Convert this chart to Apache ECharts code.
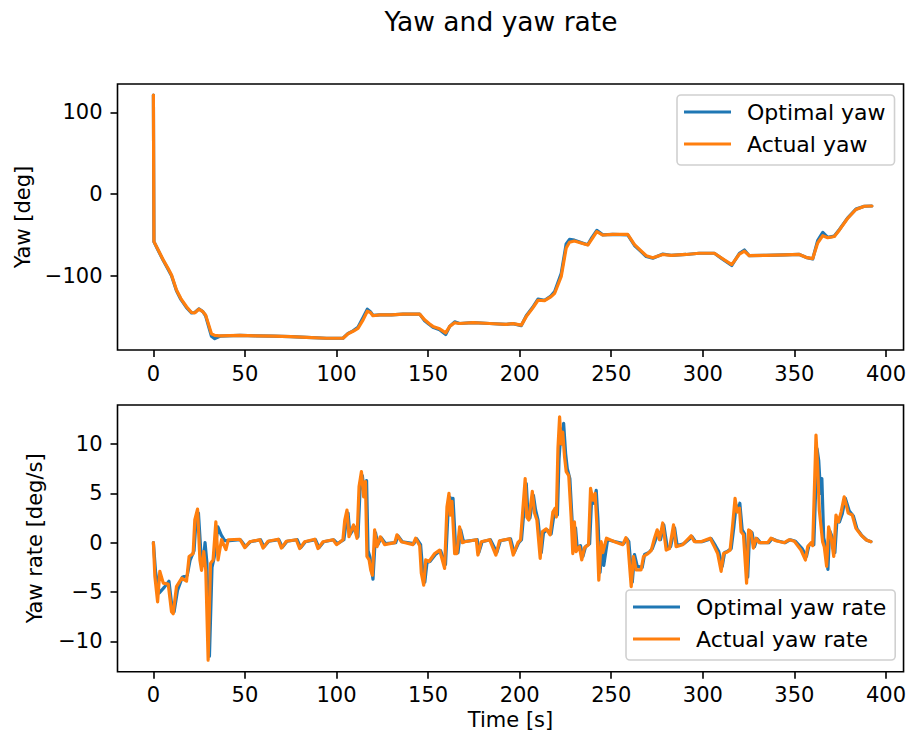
<!DOCTYPE html>
<html>
<head>
<meta charset="utf-8">
<script src="https://cdn.jsdelivr.net/npm/echarts@6/dist/echarts.min.js"></script>
<style>html,body{margin:0;padding:0;background:#fff}#c{width:909px;height:740px}</style>
</head>
<body>
<div id="c"></div>
<script>
const xTicks = [0, 50, 100, 150, 200, 250, 300, 350, 400];
const yawTicks = [-100, 0, 100];
const rateTicks = [-10, -5, 0, 5, 10];

const tYaw = [0, 0.3, 2.5, 5.4, 8, 9.9, 12.6, 15, 18.1, 20.8, 22.6, 24.8, 27, 28.5, 29.9, 31.7, 33.5, 36.3, 47.2, 56, 65.4, 75, 83.6, 94.5, 103.5, 106.3, 109, 111.7, 114.5, 116.8, 118.5, 119.9, 123.6, 130, 136.3, 145.4, 148.1, 150.5, 152.6, 156.3, 159.6, 161.8, 164.5, 167.2, 174.5, 183.6, 192.7, 196.3, 200.9, 203.6, 207, 210, 213.6, 217, 219.1, 222.7, 225.4, 227.2, 229.9, 233.5, 237.2, 239.5, 242.1, 245.4, 250.8, 259, 262.7, 266, 269.1, 272.7, 278.2, 282.7, 290.9, 298, 306.3, 310, 315.8, 320, 322.7, 325.4, 334.5, 345, 352.7, 356.3, 360, 362.7, 365.5, 368.2, 371.8, 374.6, 379, 383.6, 388.2, 392.3];
const yawActual = [121, -58.3, -68, -80.8, -91, -99, -117.5, -128, -138, -145, -145.5, -141, -144, -148, -158, -171, -173, -173.5, -173, -173.5, -174, -174.5, -175.5, -176.5, -176.5, -171, -168, -164.4, -154, -143.5, -145, -149, -148, -148, -147, -147, -154, -158.5, -162, -165, -170, -162, -157.5, -158.5, -157.5, -158.5, -159.5, -158.7, -160.5, -150, -140, -130, -130.5, -126, -121.5, -101, -66, -59, -57.5, -60, -62.4, -55, -46, -50.2, -49.5, -49.5, -62, -69, -75.5, -78, -74, -75, -74, -72.5, -72.5, -78, -86.5, -73.5, -70, -75.5, -75, -74.5, -74, -77.5, -79, -60, -51, -53.5, -52, -44, -30, -19, -15, -14.7];
const yawOptimal = [121, -58.5, -68.5, -81.5, -92, -100, -118.5, -129, -139, -145.5, -145, -140.5, -144, -149, -160, -174, -177, -174, -173, -173.5, -174, -174.5, -175.5, -176.5, -176.5, -170.5, -167.5, -163, -151, -141, -144, -148.5, -148, -148, -147, -147, -155, -159.5, -163, -166, -172, -162, -156.5, -158.5, -157.5, -158.5, -159.5, -158.7, -161, -149, -139, -128.5, -130, -125, -119.5, -97, -61, -55.5, -56.5, -59.5, -62, -53, -44.5, -50, -49.5, -50, -63, -70, -76.5, -78.5, -73.5, -75, -74, -72.5, -72.5, -78.5, -87.5, -72.5, -68.5, -75.5, -75, -74.5, -74, -77.5, -79.5, -57, -47, -53, -51.5, -43.5, -29.5, -18.5, -15, -14.7];

const tRateActual = [0, 0.8, 2.3, 3.5, 5.4, 8.1, 9.9, 10.8, 12.6, 15.4, 18.1, 19.5, 21.7, 22.6, 24.1, 25.4, 26.3, 27.5, 28.6, 29.9, 31.2, 32.6, 34.1, 35.3, 37.2, 39.6, 40.9, 47.2, 49.9, 52.6, 58.1, 59.9, 62.6, 68.1, 69.9, 72.6, 78, 79.9, 82.6, 88.1, 89.9, 92.6, 98.1, 100, 103.5, 104.5, 105.7, 106.8, 108.1, 109.3, 111.2, 112.3, 113.6, 114.8, 115.8, 116.6, 117.8, 118.7, 119.6, 120.8, 122.1, 123.9, 126.3, 131.8, 133, 135.4, 141.7, 143.2, 145.4, 146.3, 147.6, 148.7, 150.5, 153.6, 156.3, 159, 160.3, 161.4, 162.1, 163, 164.5, 165.7, 167.2, 168.7, 170, 176.3, 177.2, 179, 183.6, 187, 189, 194.5, 196.5, 199, 200.5, 203, 203.9, 205, 206.9, 208.1, 209.4, 211.2, 212.3, 214.5, 216.6, 218.1, 219.4, 220, 220.9, 221.8, 222.7, 223.5, 224.5, 225.4, 226.8, 228.1, 229, 229.9, 230.8, 232.6, 233.9, 235.4, 237.6, 238.7, 240, 241.2, 242.1, 243.2, 244.5, 245.4, 247.4, 251.8, 256.3, 258, 259, 260.9, 262.1, 263.6, 266.3, 267.6, 270, 271.8, 273.6, 275.1, 276.3, 278.1, 280, 281.8, 284, 285.4, 289, 293.6, 295.4, 299, 304, 306.3, 308.1, 310, 311.3, 312.7, 314.9, 316.3, 317.6, 318.7, 320, 320.9, 322.2, 323.9, 325, 326.3, 327.6, 329.1, 330.9, 335.4, 337.2, 339.9, 344.5, 347.2, 350, 353.6, 356, 357.3, 359.1, 360, 361.8, 362.7, 363.6, 365.4, 366.3, 367.6, 368.7, 370, 371.5, 372.7, 374, 375.5, 377.2, 379.4, 381.6, 383.6, 386.3, 389, 391.8];
const rateActual = [0, -3.4, -6.0, -2.9, -4.1, -4.2, -7.0, -7.2, -4.45, -3.6, -3.9, -1.4, -1.1, 2.3, 3.4, -1.75, -2.8, -0.9, -2.8, -11.9, -2.1, -1.75, 2.1, -1.75, 0.3, -0.7, 0.3, 0.35, -0.5, 0.1, 0.3, -0.55, 0.15, 0.35, -0.55, 0.15, 0.3, -0.6, 0.1, 0.35, -0.6, 0.1, 0.3, -0.2, 0.3, 2.3, 3.3, 0.6, 1.3, 1.8, 0.45, 5.7, 7.2, 4.65, 6.2, -1.4, -1.75, -2.8, -3.3, 1.3, -0.4, 0.6, -0.2, 0, 0.8, 0.1, -0.2, 0.45, -0.3, -3.1, -4.3, -1.75, -1.9, -1.1, -0.75, -2.6, 3.65, 5.0, 2.8, 4.2, -1.1, -1.1, 1.6, 0, 0.1, 0.3, -1.25, 0.1, 0.3, -1.25, 0.2, 0.4, -1.25, 0, 0.3, 6.5, 2.6, 2.3, 5.2, 3.0, 2.3, -1.6, 1.1, 1.4, 0.8, 3.1, 3.5, 2.6, 9.55, 12.75, 10.0, 11.2, 8.7, 7.2, 6.8, 2.6, -1.1, 2.1, -0.9, -0.4, -1.75, -0.5, -0.2, 5.5, 4.3, 5.0, 2.0, -3.8, 0.1, -1.0, 0.45, 0.1, -0.2, 0.5, 0.1, -4.45, -1.4, -2.75, -2.75, -1.4, -1.1, -0.8, 0.45, 1.3, 0.3, 2.0, -0.75, -0.6, 1.8, -0.4, -0.2, 0.7, 0.1, 0.1, 0.45, -0.4, -1.1, -2.9, -1.1, -1.0, -0.75, 1.8, 4.5, 3.1, 3.5, 1.1, 0.8, -4.1, 1.3, 1.1, -0.55, 0.45, 0, 0, 0.45, 0.2, 0, 0.3, 0.15, -0.75, -1.75, -0.4, 0, -0.3, 10.9, 7.7, 3.3, 0.1, -0.4, -2.4, 1.6, 0.6, -1.4, 2.8, 2.1, 3.1, 4.65, 3.0, 2.8, 1.45, 0.8, 0.3, 0.1];

const tRateOptimal = [0, 1.2, 3.2, 6, 8.5, 10.2, 11.3, 13.2, 15.8, 18.5, 20, 22.2, 23.2, 24.6, 26, 27, 28.2, 29.2, 30.6, 32, 33.2, 35.2, 37, 39, 41.5, 47.5, 50.4, 53, 58.5, 60.4, 63, 68.5, 70.4, 73, 78.5, 80.4, 83, 88.5, 90.4, 93, 98.5, 100.5, 104, 105.2, 106.3, 107.3, 108.6, 109.8, 111.7, 112.8, 114.1, 115.3, 116.4, 117.2, 118.3, 119.9, 121.3, 122.6, 124.4, 126.8, 132.3, 133.5, 135.9, 142.2, 143.7, 145.9, 146.9, 148.2, 149.4, 151, 154, 156.8, 159.5, 160.9, 162, 162.7, 163.6, 165.1, 166.3, 167.8, 169.3, 176.8, 177.7, 179.5, 184, 187.5, 189.5, 195, 197, 199.5, 201, 203.6, 204.5, 205.6, 207.5, 208.7, 210, 211.8, 213, 215, 217.2, 218.7, 220, 220.6, 221.5, 222.6, 223.3, 224, 225.1, 226, 227.4, 228.7, 229.6, 230.5, 231.4, 233.2, 234.5, 236, 238.2, 239.3, 240.6, 241.8, 242.7, 243.9, 245, 245.9, 248, 252.3, 256.8, 258.5, 259.6, 261.5, 262.7, 264.2, 266.9, 268.2, 270.6, 272.4, 274.2, 275.7, 276.9, 278.7, 280.6, 282.4, 284.6, 286, 289.6, 294.2, 296, 299.6, 304.6, 306.9, 308.7, 310.6, 311.9, 313.3, 315.5, 316.9, 318.2, 319.3, 320.2, 321.5, 322.8, 324.5, 325.6, 326.9, 328.2, 329.7, 331.5, 336, 337.8, 340.5, 345, 347.8, 350.6, 354.2, 356.6, 357.9, 359.7, 360.6, 362.4, 363.3, 364.3, 365, 366, 367, 368.3, 369.3, 370.6, 372.1, 373.3, 374.6, 376.1, 377.8, 380, 382.2, 384.2, 386.9, 389.6, 391.8];
const rateOptimal = [0, -3.0, -5.1, -4.5, -3.9, -6.6, -7.0, -4.8, -3.5, -3.3, -1.8, -0.8, 2.0, 3.0, -1.2, -2.3, 0.0, -2.0, -11.5, -2.5, -1.5, 1.6, 0.8, 0.2, 0.2, 0.3, -0.4, 0.1, 0.3, -0.4, 0.15, 0.3, -0.45, 0.15, 0.3, -0.5, 0.1, 0.3, -0.5, 0.1, 0.3, -0.1, 0.3, 2.0, 3.0, 0.8, 1.2, 1.6, 0.6, 5.2, 6.8, 4.8, 6.3, -0.8, -1.5, -3.7, 1.0, -0.2, 0.5, -0.1, 0, 0.7, 0.1, -0.1, 0.4, -0.2, -2.5, -4.0, -2.0, -1.9, -1.2, -0.8, -2.2, 3.2, 4.6, 3.0, 4.5, -0.8, -1.0, 1.3, 0.1, 0.3, -1.0, 0.1, 0.3, -1.0, 0.2, 0.4, -1.0, 0, 0.3, 6.0, 3.0, 2.5, 4.8, 3.3, 2.3, -1.0, 1.0, 1.3, 0.9, 2.8, 3.3, 2.8, 8.5, 11.5, 10.0, 12.1, 9.0, 7.5, 6.5, 2.0, -0.8, 1.5, -0.5, -0.3, -1.4, -0.4, -0.1, 4.5, 4.0, 5.3, 2.5, -3.0, -0.3, -2.3, 0.3, 0.1, -0.1, 0.4, 0.1, -4.0, -1.2, -2.4, -2.5, -1.2, -1.0, -0.6, 0.3, 1.1, 0.3, 1.8, -0.5, -0.4, 1.5, -0.3, -0.1, 0.6, 0.1, 0.1, 0.4, -0.3, -0.9, -2.4, -1.0, -0.9, -0.6, 1.5, 3.8, 3.2, 4.0, 1.3, 0.9, -3.5, 1.2, 1.0, -0.4, 0.4, 0, 0, 0.4, 0.2, 0, 0.3, 0.15, -0.6, -1.4, -0.3, 0, -0.2, 9.5, 8.3, 5.0, 6.5, 0.5, -0.3, -2.7, 1.2, 0.6, -1.0, 2.5, 2.1, 2.9, 4.5, 3.2, 2.7, 1.4, 0.7, 0.25, 0.1];

const FONT = 'DejaVu Sans';
const BLUE = '#1f77b4', ORANGE = '#ff7f0e';
const zip = (t, v) => t.map((x, i) => [x, v[i]]);
const minus = v => String(v).replace('-', '\u2212');

function xAxis(gi, name) {
  return {
    type: 'value', gridIndex: gi, min: -19.6, max: 409.6, position: 'bottom',
    splitLine: { show: false }, axisLine: { show: false, onZero: false },
    axisTick: { show: true, length: 7, lineStyle: { color: '#000', width: 1.6 }, customValues: xTicks },
    axisLabel: { color: '#000', fontSize: 21, fontFamily: FONT, margin: 13, customValues: xTicks, formatter: minus },
    name: name || '', nameLocation: 'middle', nameGap: 38,
    nameTextStyle: { color: '#000', fontSize: 21, fontFamily: FONT }
  };
}
function yAxis(gi, min, max, ticks, name, gap) {
  return {
    type: 'value', gridIndex: gi, min: min, max: max, position: 'left',
    splitLine: { show: false }, axisLine: { show: false, onZero: false },
    axisTick: { show: true, length: 7, lineStyle: { color: '#000', width: 1.6 }, customValues: ticks },
    axisLabel: { color: '#000', fontSize: 21, fontFamily: FONT, margin: 15, customValues: ticks, formatter: minus },
    name: name, nameLocation: 'middle', nameGap: gap, nameRotate: 90,
    nameTextStyle: { color: '#000', fontSize: 21, fontFamily: FONT }
  };
}
function legend(left, top, names) {
  return {
    left: left, top: top, orient: 'vertical', data: names,
    icon: 'rect', itemWidth: 47, itemHeight: 3, itemGap: 8,
    padding: [5, 9, 9, 7],
    backgroundColor: 'rgba(255,255,255,0.8)', borderColor: '#d0d0d0', borderWidth: 1.6, borderRadius: 4,
    textStyle: { color: '#000', fontSize: 22, fontFamily: FONT, lineHeight: 24, padding: [0, 0, 0, 11] }
  };
}
function line(name, xi, data, color, z) {
  return {
    name: name, type: 'line', xAxisIndex: xi, yAxisIndex: xi, data: data,
    symbol: 'none', showSymbol: false, z: z,
    lineStyle: { width: 3.2, color: color, cap: 'round', join: 'round' }, itemStyle: { color: color }
  };
}

const chart = echarts.init(document.getElementById('c'), null, { renderer: 'svg' });
chart.setOption({
  animation: false,
  backgroundColor: '#fff',
  title: {
    text: 'Yaw and yaw rate', left: 496, top: 3, textAlign: 'center',
    textStyle: { color: '#000', fontSize: 26.5, fontWeight: 'normal', fontFamily: FONT }
  },
  grid: [
    { left: 117.5, top: 84, width: 787, height: 266, show: true, borderColor: '#000', borderWidth: 1.6, backgroundColor: 'transparent' },
    { left: 117.5, top: 405, width: 787, height: 266.7, show: true, borderColor: '#000', borderWidth: 1.6, backgroundColor: 'transparent' }
  ],
  xAxis: [xAxis(0), xAxis(1, 'Time [s]')],
  yAxis: [
    yAxis(0, -190.9, 134.6, yawTicks, 'Yaw [deg]', 84),
    yAxis(1, -13.07, 13.95, rateTicks, 'Yaw rate [deg/s]', 72)
  ],
  legend: [
    legend(677, 95, ['Optimal yaw', 'Actual yaw']),
    legend(626, 590, ['Optimal yaw rate', 'Actual yaw rate'])
  ],
  series: [
    line('Optimal yaw', 0, zip(tYaw, yawOptimal), BLUE, 2),
    line('Actual yaw', 0, zip(tYaw, yawActual), ORANGE, 3),
    line('Optimal yaw rate', 1, zip(tRateOptimal, rateOptimal), BLUE, 2),
    line('Actual yaw rate', 1, zip(tRateActual, rateActual), ORANGE, 3)
  ]
});
</script>
</body>
</html>
